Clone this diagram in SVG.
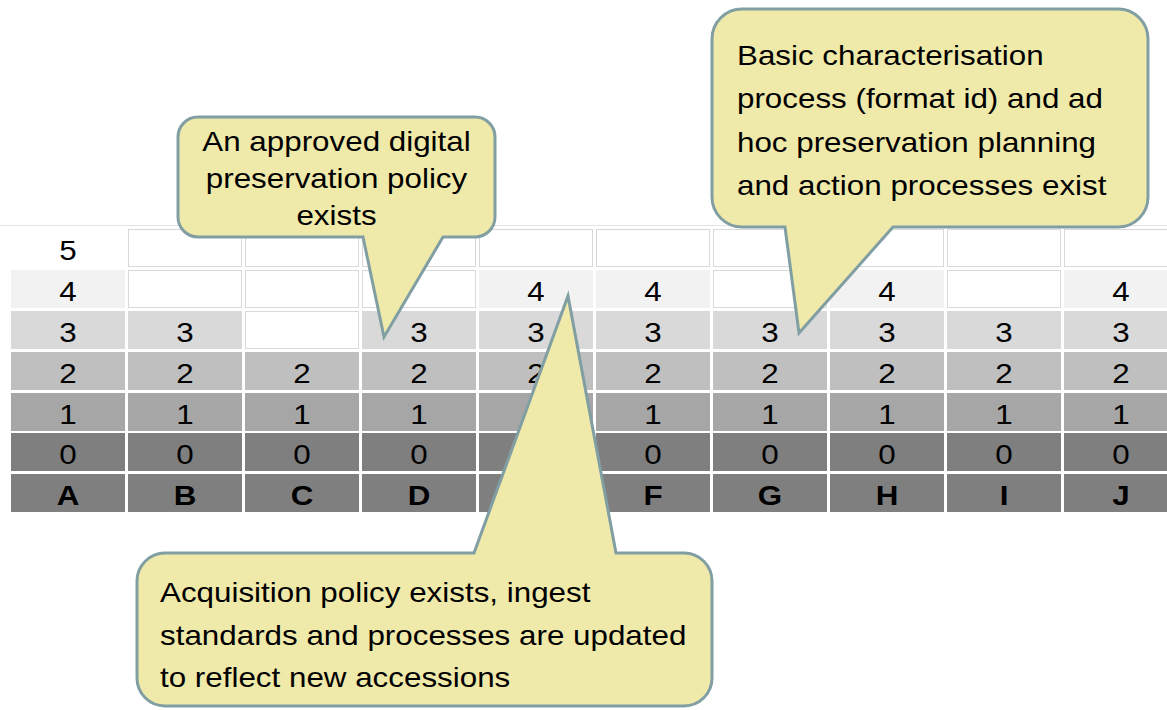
<svg xmlns="http://www.w3.org/2000/svg" width="1167" height="710" viewBox="0 0 1167 710">
<style>
.t{font-family:"Liberation Sans",Arial,sans-serif;font-size:28px;fill:#000}
.c{text-anchor:middle}
.b{font-weight:bold}
.e{fill:#fff;stroke:#d9d9d9;stroke-width:1}
.r4{fill:#f2f2f2}.r3{fill:#d9d9d9}.r2{fill:#bfbfbf}.r1{fill:#a6a6a6}.r0{fill:#7f7f7f}
.co{fill:#efe9aa;stroke:#819fa3;stroke-width:3;stroke-linejoin:miter}
</style>
<rect width="1167" height="710" fill="#fff"/>
<line x1="0" y1="225.5" x2="1167" y2="225.5" stroke="#e3e3e3" stroke-width="1"/>
<g id="grid">
<!-- row 5 (y=229) -->
<rect x="11" y="229" width="114" height="38" fill="#fff"/>
<rect class="e" x="128.5" y="229.5" width="113" height="37"/>
<rect class="e" x="245.5" y="229.5" width="113" height="37"/>
<rect class="e" x="362.5" y="229.5" width="113" height="37"/>
<rect class="e" x="479.5" y="229.5" width="113" height="37"/>
<rect class="e" x="596.5" y="229.5" width="113" height="37"/>
<rect class="e" x="713.5" y="229.5" width="113" height="37"/>
<rect class="e" x="830.5" y="229.5" width="113" height="37"/>
<rect class="e" x="947.5" y="229.5" width="113" height="37"/>
<rect class="e" x="1064.5" y="229.5" width="113" height="37"/>
<!-- row 4 (y=270) -->
<rect class="r4" x="11" y="270" width="114" height="38"/>
<rect class="e" x="128.5" y="270.5" width="113" height="37"/>
<rect class="e" x="245.5" y="270.5" width="113" height="37"/>
<rect class="e" x="362.5" y="270.5" width="113" height="37"/>
<rect class="r4" x="479" y="270" width="114" height="38"/>
<rect class="r4" x="596" y="270" width="114" height="38"/>
<rect class="e" x="713.5" y="270.5" width="113" height="37"/>
<rect class="r4" x="830" y="270" width="114" height="38"/>
<rect class="e" x="947.5" y="270.5" width="113" height="37"/>
<rect class="r4" x="1064" y="270" width="114" height="38"/>
<!-- row 3 (y=311) -->
<rect class="r3" x="11" y="311" width="114" height="38"/>
<rect class="r3" x="128" y="311" width="114" height="38"/>
<rect class="e" x="245.5" y="311.5" width="113" height="37"/>
<rect class="r3" x="362" y="311" width="114" height="38"/>
<rect class="r3" x="479" y="311" width="114" height="38"/>
<rect class="r3" x="596" y="311" width="114" height="38"/>
<rect class="r3" x="713" y="311" width="114" height="38"/>
<rect class="r3" x="830" y="311" width="114" height="38"/>
<rect class="r3" x="947" y="311" width="114" height="38"/>
<rect class="r3" x="1064" y="311" width="114" height="38"/>
<!-- row 2 (y=352) -->
<rect class="r2" x="11" y="352" width="114" height="38"/>
<rect class="r2" x="128" y="352" width="114" height="38"/>
<rect class="r2" x="245" y="352" width="114" height="38"/>
<rect class="r2" x="362" y="352" width="114" height="38"/>
<rect class="r2" x="479" y="352" width="114" height="38"/>
<rect class="r2" x="596" y="352" width="114" height="38"/>
<rect class="r2" x="713" y="352" width="114" height="38"/>
<rect class="r2" x="830" y="352" width="114" height="38"/>
<rect class="r2" x="947" y="352" width="114" height="38"/>
<rect class="r2" x="1064" y="352" width="114" height="38"/>
<!-- row 1 (y=393) -->
<rect class="r1" x="11" y="393" width="114" height="38"/>
<rect class="r1" x="128" y="393" width="114" height="38"/>
<rect class="r1" x="245" y="393" width="114" height="38"/>
<rect class="r1" x="362" y="393" width="114" height="38"/>
<rect class="r1" x="479" y="393" width="114" height="38"/>
<rect class="r1" x="596" y="393" width="114" height="38"/>
<rect class="r1" x="713" y="393" width="114" height="38"/>
<rect class="r1" x="830" y="393" width="114" height="38"/>
<rect class="r1" x="947" y="393" width="114" height="38"/>
<rect class="r1" x="1064" y="393" width="114" height="38"/>
<!-- row 0 (y=433) -->
<rect class="r0" x="11" y="433" width="114" height="38"/>
<rect class="r0" x="128" y="433" width="114" height="38"/>
<rect class="r0" x="245" y="433" width="114" height="38"/>
<rect class="r0" x="362" y="433" width="114" height="38"/>
<rect class="r0" x="479" y="433" width="114" height="38"/>
<rect class="r0" x="596" y="433" width="114" height="38"/>
<rect class="r0" x="713" y="433" width="114" height="38"/>
<rect class="r0" x="830" y="433" width="114" height="38"/>
<rect class="r0" x="947" y="433" width="114" height="38"/>
<rect class="r0" x="1064" y="433" width="114" height="38"/>
<!-- letters row (y=474) -->
<rect class="r0" x="11" y="474" width="114" height="38"/>
<rect class="r0" x="128" y="474" width="114" height="38"/>
<rect class="r0" x="245" y="474" width="114" height="38"/>
<rect class="r0" x="362" y="474" width="114" height="38"/>
<rect class="r0" x="479" y="474" width="114" height="38"/>
<rect class="r0" x="596" y="474" width="114" height="38"/>
<rect class="r0" x="713" y="474" width="114" height="38"/>
<rect class="r0" x="830" y="474" width="114" height="38"/>
<rect class="r0" x="947" y="474" width="114" height="38"/>
<rect class="r0" x="1064" y="474" width="114" height="38"/>
<g transform="scale(1.12 1)">
<text class="t c" x="60.71" y="260">5</text>
<text class="t c" x="60.71" y="301">4</text>
<text class="t c" x="478.57" y="301">4</text>
<text class="t c" x="583.04" y="301">4</text>
<text class="t c" x="791.96" y="301">4</text>
<text class="t c" x="1000.89" y="301">4</text>
<text class="t c" x="60.71" y="342">3</text>
<text class="t c" x="165.18" y="342">3</text>
<text class="t c" x="374.11" y="342">3</text>
<text class="t c" x="478.57" y="342">3</text>
<text class="t c" x="583.04" y="342">3</text>
<text class="t c" x="687.5" y="342">3</text>
<text class="t c" x="791.96" y="342">3</text>
<text class="t c" x="896.43" y="342">3</text>
<text class="t c" x="1000.89" y="342">3</text>
<text class="t c" x="60.71" y="383">2</text>
<text class="t c" x="165.18" y="383">2</text>
<text class="t c" x="269.64" y="383">2</text>
<text class="t c" x="374.11" y="383">2</text>
<text class="t c" x="478.57" y="383">2</text>
<text class="t c" x="583.04" y="383">2</text>
<text class="t c" x="687.5" y="383">2</text>
<text class="t c" x="791.96" y="383">2</text>
<text class="t c" x="896.43" y="383">2</text>
<text class="t c" x="1000.89" y="383">2</text>
<text class="t c" x="60.71" y="424">1</text>
<text class="t c" x="165.18" y="424">1</text>
<text class="t c" x="269.64" y="424">1</text>
<text class="t c" x="374.11" y="424">1</text>
<text class="t c" x="583.04" y="424">1</text>
<text class="t c" x="687.5" y="424">1</text>
<text class="t c" x="791.96" y="424">1</text>
<text class="t c" x="896.43" y="424">1</text>
<text class="t c" x="1000.89" y="424">1</text>
<text class="t c" x="60.71" y="464">0</text>
<text class="t c" x="165.18" y="464">0</text>
<text class="t c" x="269.64" y="464">0</text>
<text class="t c" x="374.11" y="464">0</text>
<text class="t c" x="583.04" y="464">0</text>
<text class="t c" x="687.5" y="464">0</text>
<text class="t c" x="791.96" y="464">0</text>
<text class="t c" x="896.43" y="464">0</text>
<text class="t c" x="1000.89" y="464">0</text>
<text class="t c b" x="60.71" y="505">A</text>
<text class="t c b" x="165.18" y="505">B</text>
<text class="t c b" x="269.64" y="505">C</text>
<text class="t c b" x="374.11" y="505">D</text>
<text class="t c b" x="583.04" y="505">F</text>
<text class="t c b" x="687.5" y="505">G</text>
<text class="t c b" x="791.96" y="505">H</text>
<text class="t c b" x="896.43" y="505">I</text>
<text class="t c b" x="1000.89" y="505">J</text>
</g>
</g>
<g id="connectors"></g>
<g id="callout-policy">
<path class="co" d="M198,117 H475 A20,20 0 0 1 495,137 V217 A20,20 0 0 1 475,237 H443 L384,337 L363,237 H198 A20,20 0 0 1 178,217 V137 A20,20 0 0 1 198,117 Z"/>
<g transform="scale(1.12 1)">
<text class="t c" x="300.45" y="151.5">An approved digital</text>
<text class="t c" x="300.45" y="188.5">preservation policy</text>
<text class="t c" x="300.45" y="225.5">exists</text>
</g>
</g>
<g id="callout-characterisation">
<path class="co" d="M742,9 H1118 A30,30 0 0 1 1148,39 V197 A30,30 0 0 1 1118,227 H893 L799,333 L785,227 H742 A30,30 0 0 1 712,197 V39 A30,30 0 0 1 742,9 Z"/>
<g transform="scale(1.12 1)">
<text class="t" x="658.04" y="65">Basic characterisation</text>
<text class="t" x="658.04" y="108.3">process (format id) and ad</text>
<text class="t" x="658.04" y="151.7">hoc preservation planning</text>
<text class="t" x="658.04" y="195">and action processes exist</text>
</g>
</g>
<g id="callout-acquisition">
<path class="co" d="M165,553 H474 L568,296 L616,553 H684 A28,28 0 0 1 712,581 V678 A28,28 0 0 1 684,706 H165 A28,28 0 0 1 137,678 V581 A28,28 0 0 1 165,553 Z"/>
<g transform="scale(1.12 1)">
<text class="t" x="142.86" y="602.5">Acquisition policy exists, ingest</text>
<text class="t" x="142.86" y="645">standards and processes are updated</text>
<text class="t" x="142.86" y="687.5">to reflect new accessions</text>
</g>
</g>
</svg>
